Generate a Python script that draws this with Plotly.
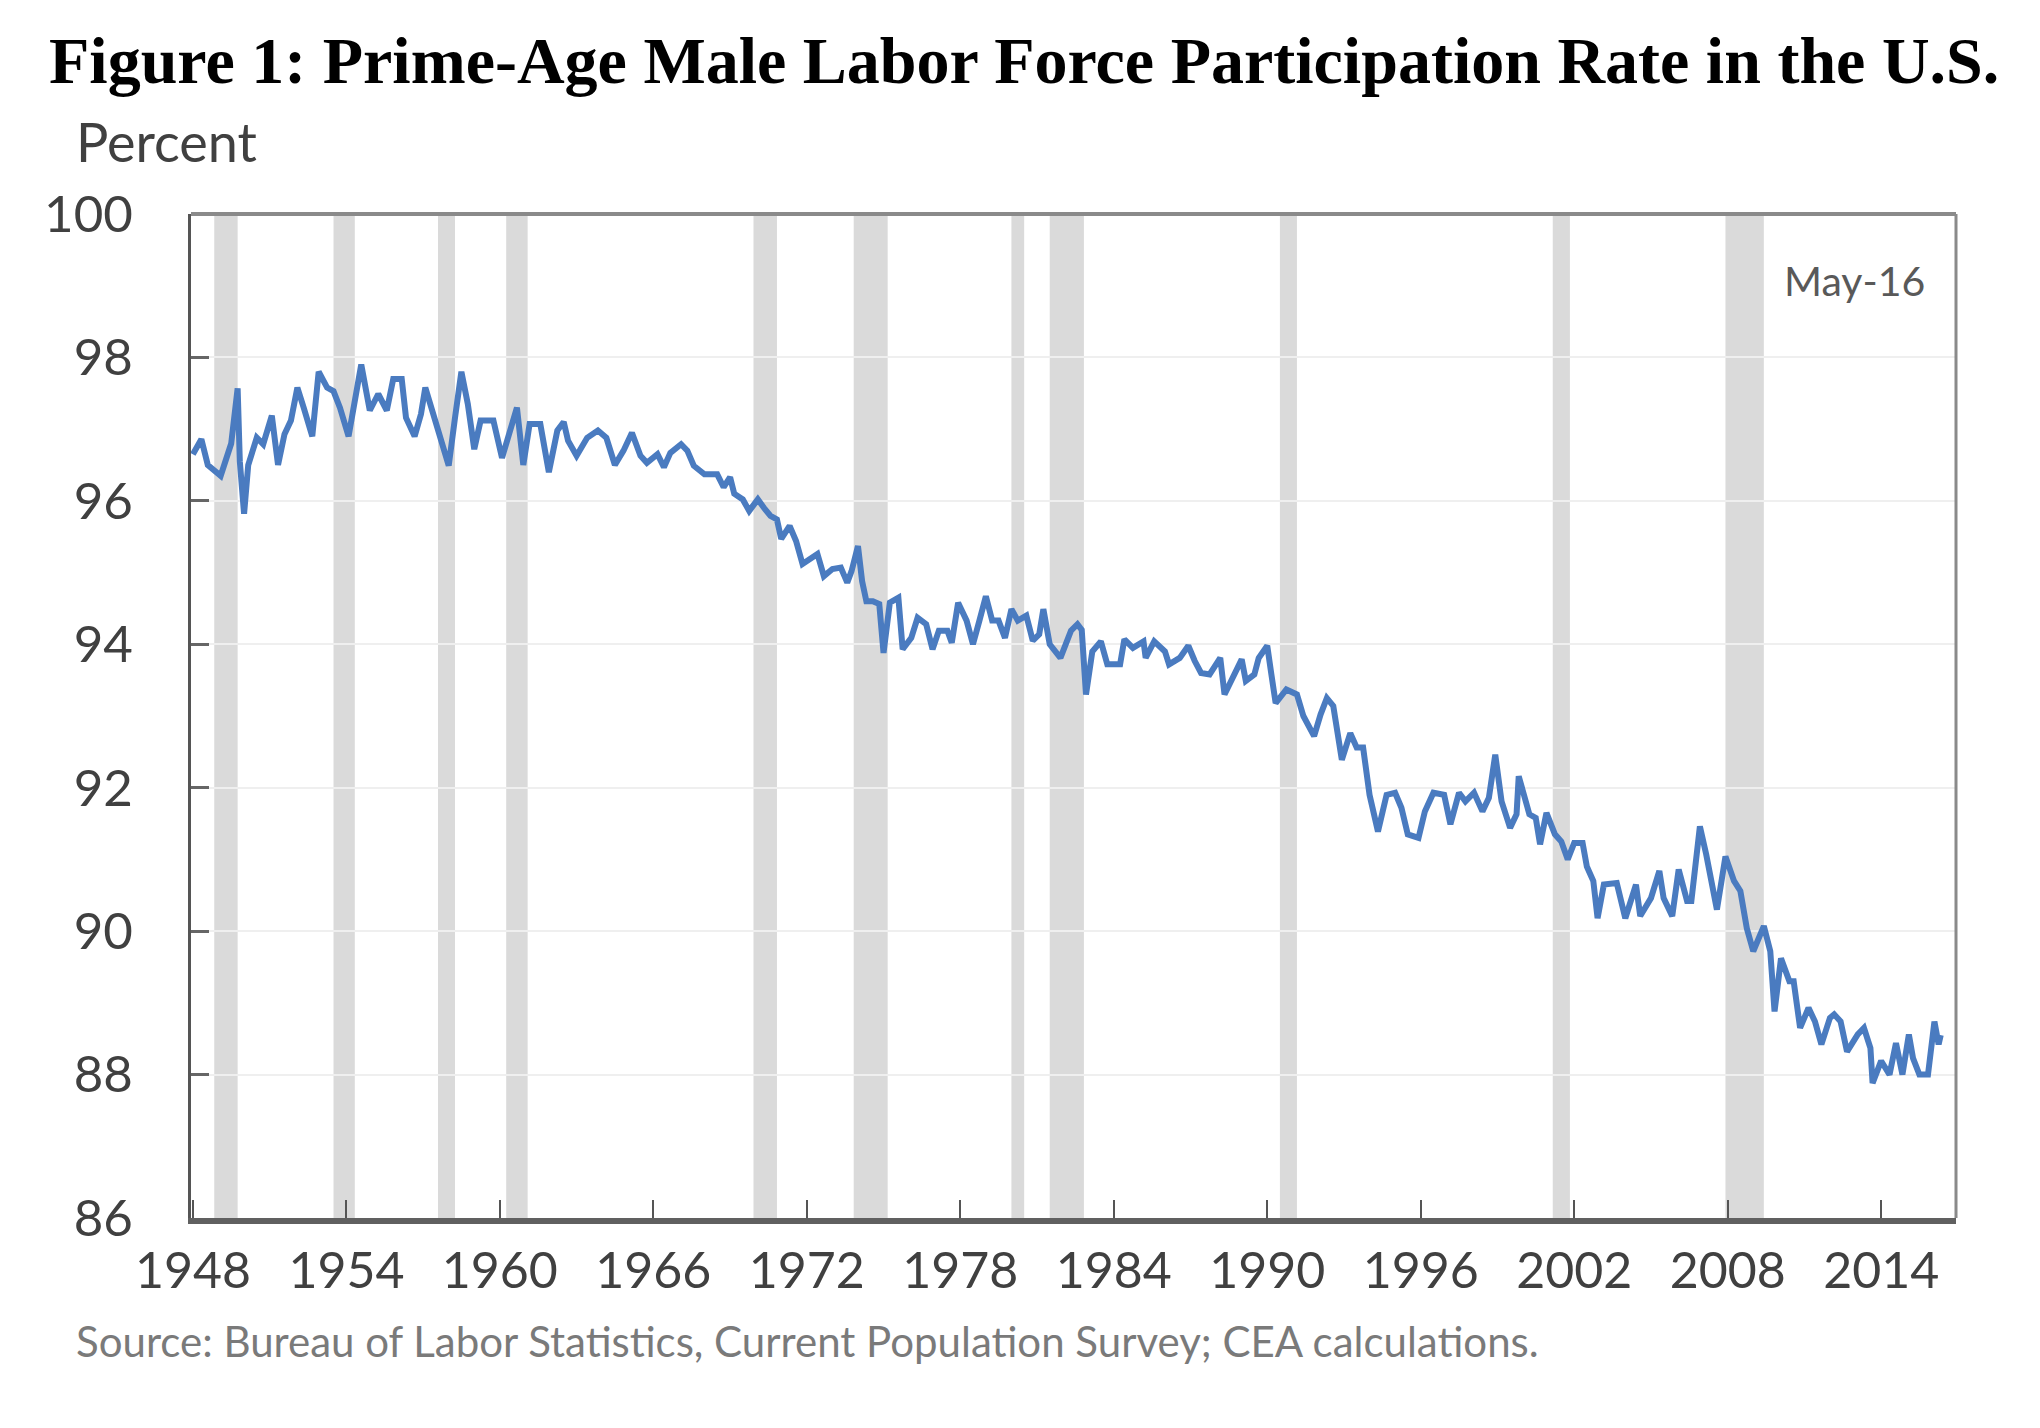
import plotly.graph_objects as go

# ---------------- data ----------------
months = [
    "1948-01", "1948-05", "1948-08", "1949-02", "1949-07", "1949-10", "1949-11", "1950-01", "1950-03", "1950-07",
    "1950-10", "1951-02", "1951-05", "1951-08", "1951-11", "1952-02", "1952-05", "1952-09", "1952-12", "1953-04",
    "1953-07", "1953-10", "1954-02", "1954-05", "1954-08", "1954-12", "1955-04", "1955-08", "1955-11", "1956-03",
    "1956-05", "1956-09", "1956-12", "1957-02", "1957-06", "1957-09", "1958-01", "1958-04", "1958-07", "1958-10",
    "1959-01", "1959-04", "1959-10", "1960-02", "1960-06", "1960-09", "1960-12", "1961-03", "1961-08", "1961-12",
    "1962-04", "1962-07", "1962-09", "1963-01", "1963-06", "1963-11", "1964-03", "1964-07", "1964-11", "1965-03",
    "1965-07", "1965-10", "1966-03", "1966-06", "1966-09", "1967-02", "1967-05", "1967-08", "1968-01", "1968-07",
    "1968-10", "1969-01", "1969-03", "1969-07", "1969-10", "1970-02", "1970-05", "1970-08", "1970-11", "1971-01",
    "1971-05", "1971-08", "1971-11", "1972-02", "1972-06", "1972-09", "1973-01", "1973-05", "1973-08", "1973-10",
    "1974-01", "1974-03", "1974-05", "1974-08", "1974-11", "1975-01", "1975-04", "1975-08", "1975-10", "1976-02",
    "1976-05", "1976-09", "1976-12", "1977-03", "1977-07", "1977-09", "1977-12", "1978-04", "1978-07", "1978-10",
    "1979-01", "1979-04", "1979-07", "1979-10", "1980-01", "1980-04", "1980-08", "1980-11", "1981-02", "1981-04",
    "1981-07", "1981-12", "1982-05", "1982-08", "1982-10", "1982-12", "1983-03", "1983-07", "1983-10", "1984-04",
    "1984-06", "1984-10", "1985-03", "1985-04", "1985-08", "1986-01", "1986-03", "1986-08", "1986-12", "1987-03",
    "1987-06", "1987-10", "1988-03", "1988-05", "1988-08", "1989-01", "1989-03", "1989-07", "1989-09", "1990-01",
    "1990-03", "1990-05", "1990-10", "1991-03", "1991-06", "1991-11", "1992-02", "1992-05", "1992-08", "1992-12",
    "1993-04", "1993-07", "1993-10", "1994-01", "1994-05", "1994-09", "1995-01", "1995-04", "1995-07", "1995-12",
    "1996-03", "1996-07", "1996-12", "1997-03", "1997-07", "1997-10", "1998-02", "1998-06", "1998-09", "1998-12",
    "1999-03", "1999-07", "1999-10", "1999-11", "2000-04", "2000-07", "2000-09", "2000-12", "2001-04", "2001-07",
    "2001-10", "2002-01", "2002-05", "2002-07", "2002-10", "2002-12", "2003-03", "2003-09", "2004-01", "2004-06",
    "2004-08", "2005-01", "2005-05", "2005-07", "2005-11", "2006-02", "2006-06", "2006-08", "2006-12", "2007-03",
    "2007-08", "2007-12", "2008-04", "2008-07", "2008-10", "2009-01", "2009-06", "2009-09", "2009-11", "2010-02",
    "2010-06", "2010-08", "2010-11", "2011-03", "2011-06", "2011-09", "2012-01", "2012-03", "2012-06", "2012-09",
    "2013-02", "2013-05", "2013-08", "2013-09", "2014-01", "2014-05", "2014-08", "2014-11", "2015-02", "2015-04",
    "2015-07", "2015-11", "2016-02", "2016-04", "2016-05",
]
rate = [
    96.65, 96.86, 96.50, 96.35, 96.80, 97.57, 96.55, 95.82, 96.50, 96.88,
    96.79, 97.19, 96.50, 96.93, 97.12, 97.58, 97.30, 96.90, 97.80, 97.58,
    97.53, 97.30, 96.90, 97.44, 97.90, 97.26, 97.49, 97.26, 97.70, 97.70,
    97.16, 96.90, 97.21, 97.58, 97.21, 96.93, 96.49, 97.16, 97.80, 97.35,
    96.72, 97.12, 97.12, 96.60, 96.98, 97.30, 96.50, 97.07, 97.07, 96.40,
    96.98, 97.10, 96.84, 96.63, 96.88, 96.98, 96.88, 96.50, 96.70, 96.95,
    96.63, 96.53, 96.65, 96.47, 96.67, 96.79, 96.70, 96.49, 96.37, 96.37,
    96.19, 96.33, 96.10, 96.02, 95.86, 96.02, 95.90, 95.79, 95.74, 95.47,
    95.65, 95.44, 95.12, 95.19, 95.26, 94.95, 95.05, 95.07, 94.86, 95.02,
    95.37, 94.88, 94.60, 94.60, 94.56, 93.88, 94.58, 94.65, 93.93, 94.09,
    94.37, 94.28, 93.93, 94.19, 94.19, 94.02, 94.58, 94.33, 94.00, 94.33,
    94.67, 94.33, 94.33, 94.09, 94.49, 94.33, 94.40, 94.05, 94.14, 94.49,
    94.00, 93.81, 94.19, 94.28, 94.20, 93.30, 93.90, 94.04, 93.72, 93.72,
    94.07, 93.95, 94.04, 93.81, 94.04, 93.90, 93.72, 93.81, 93.98, 93.77,
    93.60, 93.58, 93.81, 93.30, 93.49, 93.79, 93.49, 93.58, 93.81, 93.98,
    93.58, 93.18, 93.37, 93.30, 93.00, 92.72, 93.02, 93.25, 93.14, 92.39,
    92.76, 92.56, 92.56, 91.90, 91.39, 91.90, 91.93, 91.72, 91.35, 91.30,
    91.67, 91.93, 91.90, 91.49, 91.93, 91.81, 91.93, 91.67, 91.86, 92.46,
    91.81, 91.44, 91.63, 92.16, 91.63, 91.58, 91.21, 91.65, 91.35, 91.25,
    91.00, 91.23, 91.23, 90.90, 90.70, 90.18, 90.65, 90.67, 90.18, 90.65,
    90.21, 90.46, 90.84, 90.46, 90.21, 90.86, 90.42, 90.42, 91.46, 91.07,
    90.30, 91.04, 90.70, 90.56, 90.04, 89.72, 90.07, 89.72, 88.88, 89.62,
    89.30, 89.30, 88.65, 88.93, 88.74, 88.42, 88.79, 88.84, 88.74, 88.32,
    88.56, 88.65, 88.37, 87.88, 88.19, 88.00, 88.44, 88.00, 88.56, 88.23,
    88.00, 88.00, 88.74, 88.42, 88.55,
]

# NBER recessions (shaded bands)
rec_start = ["1948-11", "1953-07", "1957-08", "1960-04", "1969-12", "1973-11",
             "1980-01", "1981-07", "1990-07", "2001-03", "2007-12"]
rec_end = ["1949-10", "1954-05", "1958-04", "1961-02", "1970-11", "1975-03",
           "1980-07", "1982-11", "1991-03", "2001-11", "2009-06"]

x_tick_years = ["1948", "1954", "1960", "1966", "1972", "1978", "1984",
                "1990", "1996", "2002", "2008", "2014"]
y_ticks = [86, 88, 90, 92, 94, 96, 98, 100]

title_text = "Figure 1: Prime-Age Male Labor Force Participation Rate in the U.S."
y_unit_text = "Percent"
last_obs_text = "May-16"
source_text = "Source: Bureau of Labor Statistics, Current Population Survey; CEA calculations."

# ---------------- layout geometry ----------------
W, H = 2040, 1428
L, R, T, B = 183, 92, 206, 218
PW, PH = W - L - R, H - T - B


def px(x):
    return (x - L) / PW


def py(y):
    return (H - B - y) / PH


fig = go.Figure()

for s, e in zip(rec_start, rec_end):
    fig.add_shape(type="rect", xref="x", yref="y domain", x0=s, x1=e, y0=0, y1=1,
                  fillcolor="#dadada", line_width=0, layer="below")

fig.add_trace(go.Scatter(x=months, y=rate, mode="lines",
                         line=dict(color="#4a7bc0", width=6),
                         hoverinfo="skip", showlegend=False))

# top and right frame lines
fig.add_shape(type="line", xref="x domain", yref="y domain", x0=0, x1=1, y0=1, y1=1,
              line=dict(color="#8a8a8a", width=4), layer="above")
fig.add_shape(type="line", xref="x domain", yref="y domain", x0=1, x1=1, y0=0, y1=1,
              line=dict(color="#8a8a8a", width=3), layer="above")

font_main = "Lato, 'Open Sans', sans-serif"

fig.update_xaxes(
    type="date",
    range=["1947-12-05", "2016-12-05"],
    tickvals=[f"{y}-01-01" for y in x_tick_years],
    ticktext=x_tick_years,
    ticks="inside", ticklen=18, tickwidth=2, tickcolor="#555555",
    showline=True, linecolor="#606060", linewidth=6,
    showgrid=False, zeroline=False,
    tickfont=dict(family=font_main, size=50, color="#404040"),
    ticklabelstandoff=4,
)
fig.update_yaxes(
    range=[86, 100],
    tickvals=y_ticks,
    ticks="inside", ticklen=18, tickwidth=3, tickcolor="#666666",
    showline=True, linecolor="#555555", linewidth=3,
    showgrid=True, gridcolor="#efefef", gridwidth=2,
    zeroline=False,
    tickfont=dict(family=font_main, size=51, color="#404040"),
    ticklabelstandoff=45,
)

fig.add_annotation(text=f"<b>{title_text}</b>", xref="paper", yref="paper",
                   x=px(1016), y=py(53), xanchor="center", yanchor="middle",
                   showarrow=False,
                   font=dict(family="'Liberation Serif', 'Times New Roman', serif", size=66, color="#000000"))
fig.add_annotation(text=y_unit_text, xref="paper", yref="paper",
                   x=px(66), y=py(133), xanchor="left", yanchor="middle", showarrow=False,
                   font=dict(family=font_main, size=54, color="#404040"))
fig.add_annotation(text=last_obs_text, xref="paper", yref="paper",
                   x=px(1919), y=py(272), xanchor="right", yanchor="middle", showarrow=False,
                   font=dict(family=font_main, size=41, color="#595959"))
fig.add_annotation(text=source_text, xref="paper", yref="paper",
                   x=px(66), y=py(1333), xanchor="left", yanchor="middle", showarrow=False,
                   font=dict(family=font_main, size=42, color="#7a7a7a"))

fig.update_layout(
    width=W, height=H,
    margin=dict(l=L, r=R, t=T, b=B, pad=0),
    paper_bgcolor="white", plot_bgcolor="white",
    showlegend=False,
)

fig.write_html("out.html")
